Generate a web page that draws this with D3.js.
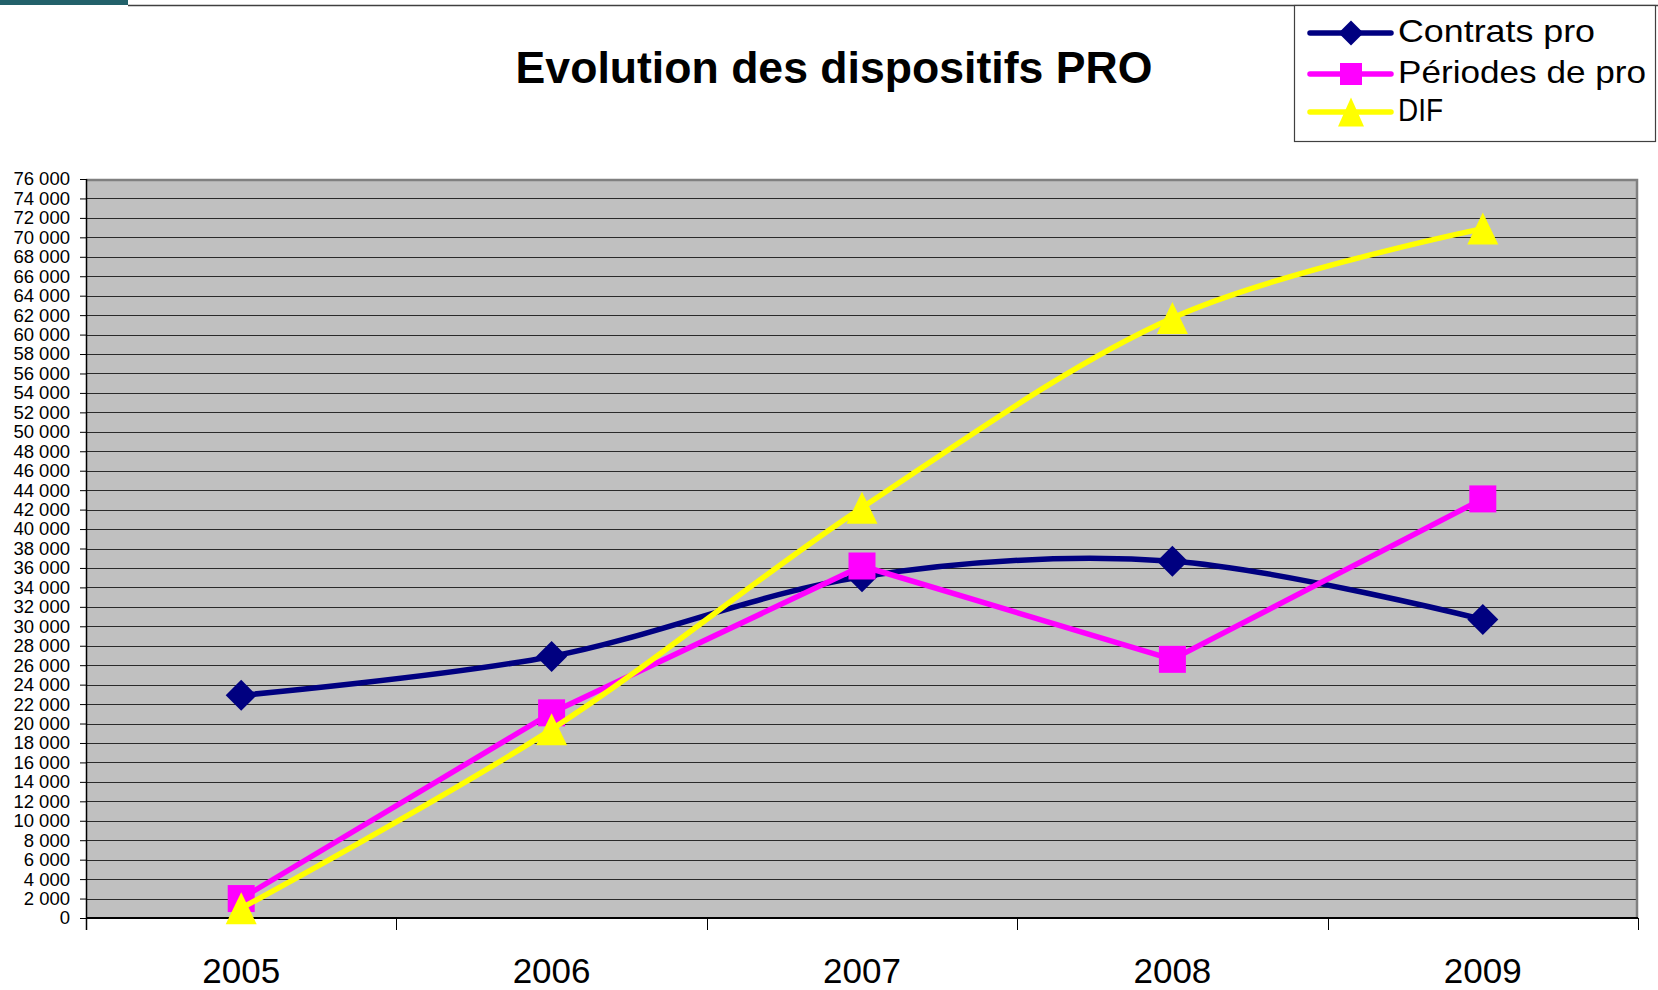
<!DOCTYPE html>
<html>
<head>
<meta charset="utf-8">
<script src="https://cdn.jsdelivr.net/npm/d3@7"></script>
<style>
  html, body { margin: 0; padding: 0; background: #ffffff; }
  svg { display: block; }
  text { font-family: "Liberation Sans", Arial, Helvetica, sans-serif; }
</style>
</head>
<body>
<svg id="chart" width="1658" height="990"></svg>
<script>
// ---- Data ----
const categories = ["2005", "2006", "2007", "2008", "2009"];
const contratsPro = [22900, 26900, 35100, 36700, 30700];
const periodesPro = [2000, 21100, 36200, 26600, 43100];
const dif = [1000, 19400, 42200, 61700, 70900];
const seriesNames = ["Contrats pro", "Périodes de pro", "DIF"];
const yTickValues = d3.range(0, 76001, 2000);
const titleText = "Evolution des dispositifs PRO";

// ---- Layout ----
const W = 1658, H = 990;
const plot = { left: 86, right: 1638, top: 179, bottom: 918 };

const svg = d3.select("#chart");

const x = d3.scaleBand().domain(categories).range([plot.left, plot.right]).padding(0);
const y = d3.scaleLinear().domain([0, 76000]).range([plot.bottom, plot.top]);

const frFormat = d3.formatLocale({ decimal: ",", thousands: "\u00a0", grouping: [3], currency: ["", "€"] }).format(",d");

// top decoration
svg.append("rect").attr("x", 0).attr("y", 0).attr("width", 128).attr("height", 5).attr("fill", "#22616a");
svg.append("line").attr("x1", 128).attr("x2", W).attr("y1", 5.5).attr("y2", 5.5)
  .attr("stroke", "#404040").attr("stroke-width", 1.5);

// title
svg.append("text")
  .attr("x", 834).attr("y", 83)
  .attr("text-anchor", "middle")
  .attr("font-size", 44.6).attr("font-weight", "bold").attr("fill", "#000")
  .text(titleText);

// plot area
svg.append("rect")
  .attr("x", plot.left).attr("y", plot.top)
  .attr("width", plot.right - plot.left).attr("height", plot.bottom - plot.top)
  .attr("fill", "#c0c0c0");

// gridlines
svg.append("g").selectAll("line").data(yTickValues.filter(d => d > 0 && d < 76000)).join("line")
  .attr("x1", plot.left).attr("x2", plot.right)
  .attr("y1", d => Math.round(y(d)) + 0.5).attr("y2", d => Math.round(y(d)) + 0.5)
  .attr("stroke", "#2a2a2a").attr("stroke-width", 1);

// plot border (top/right gray)
svg.append("path")
  .attr("d", `M${plot.left},${plot.top + 1}H${plot.right - 1}V${plot.bottom}`)
  .attr("fill", "none").attr("stroke", "#808080").attr("stroke-width", 2.5);

// y axis
const yAxis = d3.axisLeft(y).tickValues(yTickValues).tickSize(6).tickPadding(10).tickFormat(frFormat);
const gy = svg.append("g").attr("transform", `translate(${plot.left},0)`).call(yAxis);
gy.select(".domain").remove();
gy.selectAll(".tick line").attr("stroke", "#000");
gy.selectAll(".tick text").attr("font-size", 18.5).attr("fill", "#000")
  .attr("font-family", "'Liberation Sans', Arial, sans-serif");
svg.append("line").attr("x1", plot.left + 0.5).attr("x2", plot.left + 0.5)
  .attr("y1", plot.top).attr("y2", plot.bottom + 12).attr("stroke", "#000").attr("stroke-width", 1.5);

// x axis
const bounds = categories.map(c => x(c)).concat([x(categories[categories.length - 1]) + x.bandwidth()]);
svg.append("line").attr("x1", plot.left).attr("x2", plot.right)
  .attr("y1", plot.bottom).attr("y2", plot.bottom).attr("stroke", "#000").attr("stroke-width", 2);
svg.append("g").selectAll("line").data(bounds).join("line")
  .attr("x1", d => Math.round(d) + 0.5).attr("x2", d => Math.round(d) + 0.5)
  .attr("y1", plot.bottom).attr("y2", plot.bottom + 12)
  .attr("stroke", "#000").attr("stroke-width", 1);
svg.append("g").selectAll("text").data(categories).join("text")
  .attr("x", d => x(d) + x.bandwidth() / 2)
  .attr("y", 983)
  .attr("text-anchor", "middle")
  .attr("font-size", 35).attr("fill", "#000")
  .text(d => d);

// markers
const diamond = (s) => `M0,${-s}L${s},0L0,${s}L${-s},0Z`;
const square = (s) => `M${-s},${-s}H${s}V${s}H${-s}Z`;
const triangle = (w, h) => `M0,${-h / 2}L${w / 2},${h / 2}H${-w / 2}Z`;

const series = [
  { name: seriesNames[0], values: contratsPro, color: "#000080", smooth: true,
    marker: diamond(15.5), legendMarker: diamond(12.5) },
  { name: seriesNames[1], values: periodesPro, color: "#ff00ff", smooth: false,
    marker: square(13.5), legendMarker: square(11) },
  { name: seriesNames[2], values: dif, color: "#ffff00", smooth: true,
    marker: triangle(31, 32), legendMarker: triangle(26, 29) }
];

const cx = (i) => x(categories[i]) + x.bandwidth() / 2;

series.forEach(s => {
  const line = d3.line()
    .x((d, i) => cx(i))
    .y(d => y(d))
    .curve(s.smooth ? d3.curveCardinal.tension(0) : d3.curveLinear);
  svg.append("path")
    .attr("d", line(s.values))
    .attr("fill", "none").attr("stroke", s.color)
    .attr("stroke-width", 5.5).attr("stroke-linejoin", "round").attr("stroke-linecap", "round");
  svg.append("g").selectAll("path").data(s.values).join("path")
    .attr("transform", (d, i) => `translate(${cx(i)},${y(d)})`)
    .attr("d", s.marker)
    .attr("fill", s.color);
});

// legend
const lg = svg.append("g");
lg.append("rect").attr("x", 1294.5).attr("y", 5.5).attr("width", 361).attr("height", 136)
  .attr("fill", "#fff").attr("stroke", "#404040").attr("stroke-width", 1.2);
const legendRows = [33, 74, 112];
const legendWidths = [197, 248, 45];
series.forEach((s, i) => {
  const ry = legendRows[i];
  lg.append("line").attr("x1", 1310).attr("x2", 1391).attr("y1", ry).attr("y2", ry)
    .attr("stroke", s.color).attr("stroke-width", 5.5).attr("stroke-linecap", "round");
  lg.append("path").attr("transform", `translate(1351,${ry})`).attr("d", s.legendMarker).attr("fill", s.color);
  const t = lg.append("text").attr("x", 1398).attr("y", ry + 9)
    .attr("font-size", 32).attr("fill", "#000").text(s.name);
  t.attr("textLength", legendWidths[i]).attr("lengthAdjust", "spacingAndGlyphs");
});
</script>
</body>
</html>
